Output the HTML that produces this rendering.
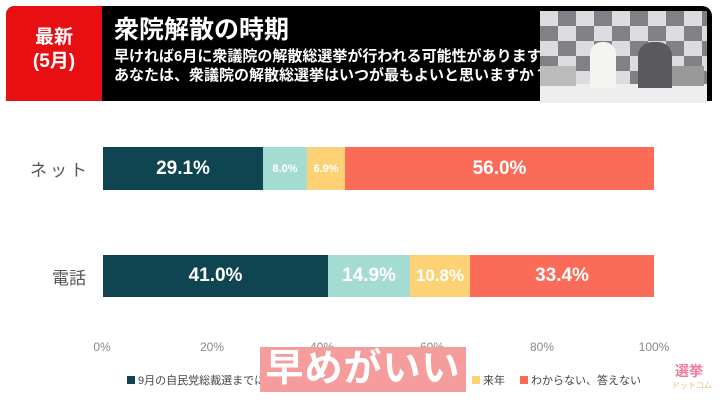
<!DOCTYPE html>
<html><head><meta charset="utf-8"><style>
body{margin:0;width:720px;height:402px;background:#fff;position:relative;overflow:hidden;font-family:"Liberation Sans","Noto Sans CJK JP",sans-serif}
.a{position:absolute}
.seg{position:absolute;color:#fff;font-weight:bold;display:flex;align-items:center;justify-content:center}
.tk{position:absolute;top:340px;font-size:12px;color:#888;width:60px;text-align:center}
.lg{position:absolute;top:372px;font-size:11px;color:#444;white-space:nowrap}
.sq{display:inline-block;width:8px;height:8px;margin-right:3px;vertical-align:0}
</style></head><body>
<div class="a" style="left:6px;top:6px;width:96px;height:95px;background:#e70f12;border-top-left-radius:8px"></div>
<div class="a" style="left:102px;top:6px;width:610px;height:95px;background:#000;border-top-right-radius:10px"></div>
<div class="a" style="left:6px;top:26px;width:96px;text-align:center;color:#fff;font-weight:bold;font-size:19px;line-height:24px">最新<br>(5月)</div>
<div class="a" style="left:114px;top:15px;color:#fff;font-weight:bold;font-size:25px;line-height:30px">衆院解散の時期</div>
<div class="a" style="left:114px;top:47px;color:#fff;font-weight:bold;font-size:15px;line-height:19px;white-space:nowrap;width:426px;overflow:hidden">早ければ6月に衆議院の解散総選挙が行われる可能性があります。<br>あなたは、衆議院の解散総選挙はいつが最もよいと思いますか？</div>
<div class="a" style="left:540px;top:11px;width:167px;height:92px;background:repeating-conic-gradient(#7f8186 0 25%,#dcdcde 0 50%) 0 0/36px 30px"></div>
<div class="a" style="left:540px;top:84px;width:167px;height:19px;background:#eee"></div>
<div class="a" style="left:540px;top:66px;width:36px;height:20px;background:#bbb"></div>
<div class="a" style="left:668px;top:66px;width:36px;height:20px;background:#999"></div>
<div class="a" style="left:590px;top:42px;width:26px;height:46px;background:#f4f4f0;border-radius:12px 12px 0 0"></div>
<div class="a" style="left:638px;top:42px;width:34px;height:46px;background:#5a5a5e;border-radius:14px 14px 0 0"></div>
<div class="a" style="left:20px;top:156px;width:70px;text-align:right;font-size:17px;color:#555;letter-spacing:3px">ネット</div>
<div class="a" style="left:20px;top:264px;width:66px;text-align:right;font-size:17px;color:#555">電話</div>
<div class="seg" style="left:103px;top:147px;width:160px;height:43px;background:#0f4550;font-size:19px">29.1%</div>
<div class="seg" style="left:263px;top:147px;width:44px;height:43px;background:#a5dcd1;font-size:11px">8.0%</div>
<div class="seg" style="left:307px;top:147px;width:38px;height:43px;background:#fdd277;font-size:11px">6.9%</div>
<div class="seg" style="left:345px;top:147px;width:309px;height:43px;background:#fa6b58;font-size:19px">56.0%</div>
<div class="seg" style="left:103px;top:255px;width:225px;height:42px;background:#0f4550;font-size:19px">41.0%</div>
<div class="seg" style="left:328px;top:255px;width:82px;height:42px;background:#a5dcd1;font-size:19px">14.9%</div>
<div class="seg" style="left:410px;top:255px;width:60px;height:42px;background:#fdd277;font-size:17px">10.8%</div>
<div class="seg" style="left:470px;top:255px;width:184px;height:42px;background:#fa6b58;font-size:19px">33.4%</div>
<div class="tk" style="left:72px">0%</div><div class="tk" style="left:182px">20%</div><div class="tk" style="left:292px">40%</div><div class="tk" style="left:402px">60%</div><div class="tk" style="left:512px">80%</div><div class="tk" style="left:624px">100%</div>
<div class="lg" style="left:127px"><span class="sq" style="background:#0f4550"></span>9月の自民党総裁選までに</div>
<div class="lg" style="left:300px;color:#c44">来年9月の任期満了まで</div>
<div class="lg" style="left:472px"><span class="sq" style="background:#fdd277"></span>来年</div>
<div class="lg" style="left:520px"><span class="sq" style="background:#fa6b58"></span>わからない、答えない</div>
<div class="a" style="left:260px;top:347px;width:206px;height:45px;background:#f59c9c;color:#fff;font-weight:bold;font-size:38px;line-height:45px;text-align:center;letter-spacing:1px">早めがいい</div>
<div class="a" style="left:675px;top:364px;font-size:14px;font-weight:bold;color:#f07a9a;line-height:14px">選挙</div>
<div class="a" style="left:672px;top:380px;font-size:8px;color:#e8c070">ドットコム</div>
</body></html>
